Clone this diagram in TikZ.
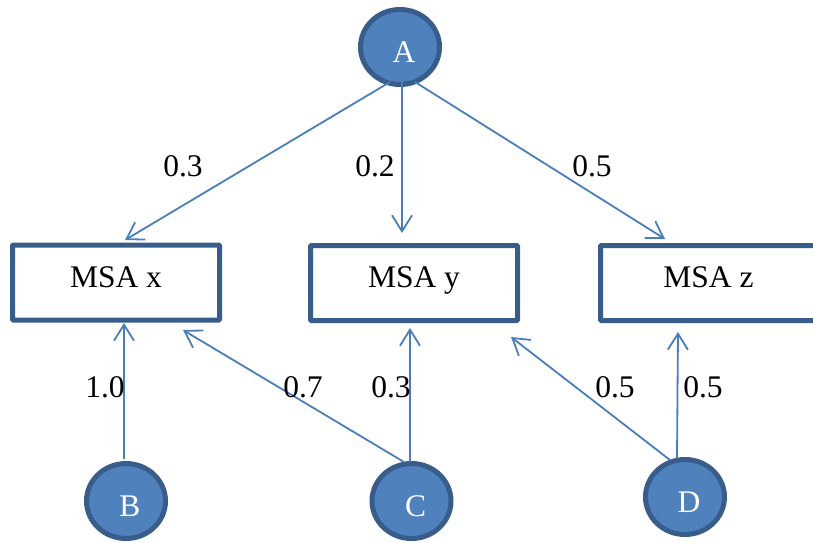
\documentclass[tikz,border=0pt]{standalone}
\usepackage{fontspec}
\setmainfont{Liberation Serif}
\usetikzlibrary{arrows.meta,shapes.geometric}
\definecolor{linkblue}{HTML}{4A7EBB}
\definecolor{fillblue}{HTML}{4F81BD}
\definecolor{edgeblue}{HTML}{385D8A}
\tikzset{
  bigfont/.style={font=\fontsize{31.5}{37}\selectfont},
  src/.style={ellipse, draw=edgeblue, fill=fillblue, line width=5pt,
    minimum width=79pt, minimum height=75pt, inner sep=0pt,
    text=white, bigfont, text height=31pt, text depth=0pt},
  msabox/.style={rectangle, draw=edgeblue, fill=white, line width=5pt,
    minimum height=75pt, inner sep=0pt, bigfont,
    text height=21pt, text depth=12pt, rounded corners=1pt},
  link/.style={draw=linkblue, line width=1.8pt,
    -{Straight Barb[length=16pt,width=20pt,line width=1.8pt]}},
  wlabel/.style={bigfont, inner sep=0pt, text=black}
}
\begin{document}
\begin{tikzpicture}[x=1pt,y=-1pt]
\useasboundingbox (0,0) rectangle (813,542);

\node[msabox, minimum width=207pt] (bx) at (116,282.5) {MSA x};
\node[msabox, minimum width=207pt] (by) at (414,283) {MSA y};
\node[msabox, minimum width=230pt] (bz) at (715.5,283) {MSA z\hspace*{14pt}};

\node[src] (A) at (400,47) {\hspace*{8pt}A};
\node[src] (B) at (126,501) {\hspace*{8pt}B};
\node[src] (C) at (411.5,501) {\hspace*{8pt}C};
\node[src] (D) at (685,497) {\hspace*{8pt}D};

\draw[link] ([xshift=-10pt,yshift=-35pt]A.center) -- ([xshift=9pt,yshift=42.5pt]bx.center);
\draw[link] ([xshift=2pt,yshift=-33pt]A.center) -- ([xshift=-12pt,yshift=50pt]by.center);
\draw[link] ([xshift=15pt,yshift=-35pt]A.center) -- ([xshift=-50.5pt,yshift=44pt]bz.center);
\draw[link] ([xshift=-2pt,yshift=42pt]B.center) -- ([xshift=8pt,yshift=-40.5pt]bx.center);
\draw[link] ([xshift=-7.5pt,yshift=39pt]C.center) -- ([xshift=67pt,yshift=-47.5pt]bx.center);
\draw[link] ([xshift=-1.5pt,yshift=39pt]C.center) -- ([xshift=-4pt,yshift=-45pt]by.center);
\draw[link] ([xshift=-15pt,yshift=37pt]D.center) -- ([xshift=97pt,yshift=-54pt]by.center);
\draw[link] ([xshift=-8pt,yshift=39pt]D.center) -- ([xshift=-37.5pt,yshift=-49pt]bz.center);

\node[wlabel] (lAx) at (183,166) {0.3};
\node[wlabel] (lAy) at (375,166) {0.2};
\node[wlabel] (lAz) at (592,166) {0.5};
\node[wlabel] (lBx) at (105,387) {1.0};
\node[wlabel] (lCx) at (303,387) {0.7};
\node[wlabel] (lCy) at (391,387) {0.3};
\node[wlabel] (lDy) at (615,387) {0.5};
\node[wlabel] (lDz) at (703,387) {0.5};
\end{tikzpicture}
\end{document}
